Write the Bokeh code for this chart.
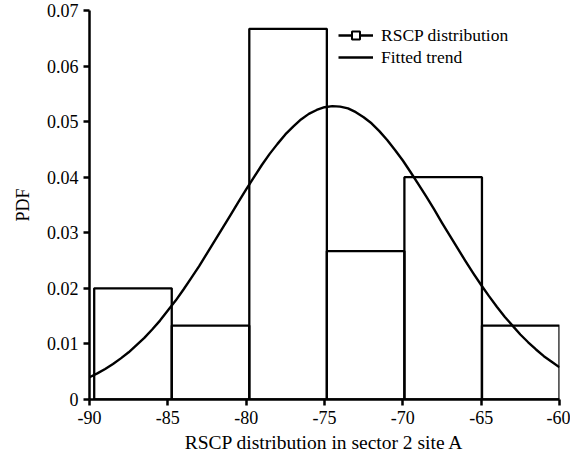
import math
from bokeh.plotting import figure
from bokeh.models import (Range1d, FixedTicker, CustomJSTickFormatter, Legend, LegendItem,
                          ColumnDataSource)
from bokeh.embed import file_html
from bokeh.resources import INLINE

# Histogram bins (RSCP, dBm) and PDF values
bin_left = [-89.7, -84.75, -79.8, -74.85, -69.9, -64.95]
bin_right = [-84.75, -79.8, -74.85, -69.9, -64.95, -60.0]
pdf_values = [0.0200, 0.0133, 0.0667, 0.0267, 0.0400, 0.0133]

# Fitted trend
fit_x = [-90, -89.5, -89, -88.5, -88, -87.5, -87, -86.5, -86, -85.5,
         -85, -84.5, -84, -83.5, -83, -82.5, -82, -81.5, -81, -80.5,
         -80, -79.5, -79, -78.5, -78, -77.5, -77, -76.5, -76, -75.5,
         -75, -74.5, -74, -73.5, -73, -72.5, -72, -71.5, -71, -70.5,
         -70, -69.5, -69, -68.5, -68, -67.5, -67, -66.5, -66, -65.5,
         -65, -64.5, -64, -63.5, -63, -62.5, -62, -61.5, -61, -60.5, -60]
fit_y = [0.0040, 0.0047, 0.0055, 0.0064, 0.0074, 0.0085, 0.0098, 0.0111, 0.0126, 0.0142,
         0.0160, 0.0178, 0.0198, 0.0219, 0.0240, 0.0263, 0.0286, 0.0309, 0.0332, 0.0355,
         0.0378, 0.0400, 0.0422, 0.0442, 0.0460, 0.0477, 0.0491, 0.0504, 0.0514, 0.0521,
         0.0526, 0.0528, 0.0527, 0.0524, 0.0517, 0.0508, 0.0497, 0.0483, 0.0467, 0.0449,
         0.0430, 0.0409, 0.0387, 0.0365, 0.0342, 0.0318, 0.0295, 0.0272, 0.0249, 0.0227,
         0.0206, 0.0186, 0.0167, 0.0149, 0.0133, 0.0117, 0.0103, 0.0090, 0.0078, 0.0068,
         0.0058]

x_ticks = [-90, -85, -80, -75, -70, -65, -60]
y_ticks = [0, 0.01, 0.02, 0.03, 0.04, 0.05, 0.06, 0.07]

FONT = "Liberation Serif"

p = figure(width=570, height=455, output_backend="svg", toolbar_location=None,
           x_range=Range1d(-90, -60), y_range=Range1d(0, 0.07),
           min_border_left=89, min_border_right=11, min_border_top=10, min_border_bottom=56)
p.outline_line_color = None
p.xgrid.visible = False
p.ygrid.visible = False

p.quad(left=bin_left, right=bin_right, bottom=0, top=pdf_values,
       fill_color=None, line_color="black", line_width=2.3)

curve = p.line(fit_x, fit_y, line_color="black", line_width=2.4, line_join="round")

# proxy renderers (no visible data) for the legend glyph: line + hollow square
proxy = ColumnDataSource(data=dict(x=[math.nan], y=[math.nan]))
d_line = p.line(x="x", y="y", source=proxy, line_color="black", line_width=2.4)
d_sq = p.scatter(x="x", y="y", source=proxy, marker="square", size=9, fill_color="white",
                 line_color="black", line_width=2)

legend = Legend(items=[LegendItem(label="RSCP distribution", renderers=[d_line, d_sq]),
                       LegendItem(label="Fitted trend", renderers=[curve])],
                location=(249, 331), padding=0, margin=0, spacing=0,
                label_height=22, glyph_height=20, glyph_width=35, label_standoff=8,
                border_line_color=None, background_fill_alpha=0,
                label_text_font=FONT, label_text_font_size="17.5px", label_text_color="black")
p.add_layout(legend)

for ax in (p.xaxis[0], p.yaxis[0]):
    ax.axis_line_width = 2.5
    ax.axis_line_color = "black"
    ax.major_tick_line_width = 2.5
    ax.major_tick_line_color = "black"
    ax.major_tick_out = 6
    ax.major_tick_in = 0
    ax.minor_tick_line_color = None
    ax.major_label_text_font = FONT
    ax.major_label_text_font_size = "18px"
    ax.major_label_text_color = "black"
    ax.axis_label_text_font = FONT
    ax.axis_label_text_font_size = "19.5px"
    ax.axis_label_text_font_style = "normal"
    ax.axis_label_text_color = "black"

p.xaxis.ticker = FixedTicker(ticks=x_ticks)
p.yaxis.ticker = FixedTicker(ticks=y_ticks)
p.xaxis.formatter = CustomJSTickFormatter(code="return tick.toFixed(0);")
p.yaxis.formatter = CustomJSTickFormatter(code="return tick == 0 ? '0' : tick.toFixed(2);")
p.xaxis.major_label_standoff = 5
p.yaxis.major_label_standoff = 5
p.xaxis.axis_label = "RSCP distribution in sector 2 site A"
p.yaxis.axis_label = "PDF"
p.yaxis.axis_label_text_font_size = "18px"
p.xaxis.axis_label_standoff = 5
p.yaxis.axis_label_standoff = 11

open("out.html", "w").write(file_html(p, INLINE))
